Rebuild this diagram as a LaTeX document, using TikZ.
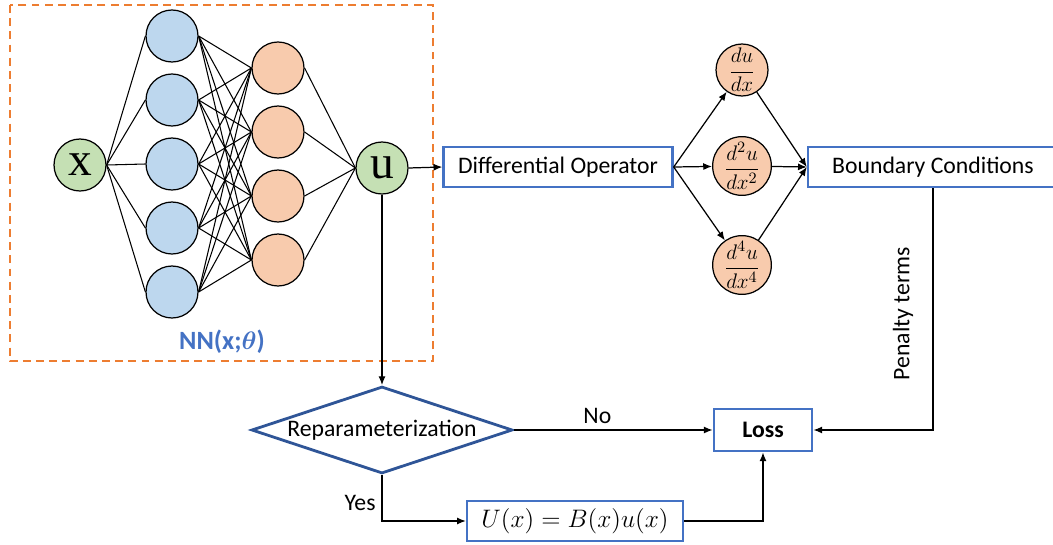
\documentclass[tikz,border=0pt]{standalone}
\usepackage{fontspec}
\setmainfont{Carlito}
\newfontfamily\neuronfont{Liberation Serif}
\usetikzlibrary{shapes.geometric,arrows.meta}
\definecolor{boxblue}{HTML}{4472C4}
\definecolor{darkblue}{HTML}{2F5597}
\definecolor{nnorange}{HTML}{ED7D31}
\definecolor{inblue}{HTML}{BDD7EE}
\definecolor{hidorange}{HTML}{F8CBAD}
\definecolor{iogreen}{HTML}{C5E0B4}
\tikzset{
  neuron/.style={circle,draw,line width=0.7pt,minimum size=1.04cm,inner sep=0pt},
  flowbox/.style={draw=boxblue,line width=1.4pt,minimum height=0.8cm,inner sep=2pt,fill=white},
  link/.style={line width=0.6pt},
  arrow/.style={line width=0.7pt,-{Latex[length=5pt,width=4pt]}}
}
\begin{document}
\begin{tikzpicture}[x=0.02cm,y=-0.02cm,font=\fontsize{13.5}{16}\selectfont]
    \useasboundingbox (0,0) rectangle (1053,544);
    \draw[nnorange,line width=0.9pt,dash pattern=on 4.5pt off 3pt] (10,5) rectangle (433,361);
    \node[neuron,fill=iogreen,font=\neuronfont\fontsize{27}{27}\selectfont] (x) at (80,165) {x};
    \foreach \i/\y in {1/36,2/100,3/164,4/228,5/292}
    \node[neuron,fill=inblue] (a\i) at (172,\y) {};
    \foreach \j/\y in {1/68,2/132,3/196,4/260}
    \node[neuron,fill=hidorange] (b\j) at (278,\y) {};
    \node[neuron,fill=iogreen,font=\neuronfont\fontsize{27}{27}\selectfont] (u) at (382,168) {u};
    \foreach \i in {1,...,5} {
      \draw[link] (x.east) -- (a\i.west);
      \foreach \j in {1,...,4}
      \draw[link] (a\i.east) -- (b\j.west);
    }
    \foreach \j in {1,...,4}
    \draw[link] (b\j.east) -- (u.west);
    \node[text=boxblue,font=\bfseries\boldmath\fontsize{15}{18}\selectfont] (nn) at (222,342) {NN(x;$\theta$)};
    \node[flowbox,minimum width=4.58cm] (diff) at (558,167) {Differential Operator};
    \node[neuron,fill=hidorange,font=\fontsize{13}{15}\selectfont] (d1) at (742,70) {$\displaystyle\frac{du}{dx}$};
    \node[neuron,fill=hidorange,font=\fontsize{13}{15}\selectfont] (d2) at (742,166) {$\displaystyle\frac{d^2u}{dx^2}$};
    \node[neuron,fill=hidorange,font=\fontsize{13}{15}\selectfont] (d4) at (742,265) {$\displaystyle\frac{d^4u}{dx^4}$};
    \node[flowbox,minimum width=5cm] (bc) at (933,167) {Boundary Conditions};
    \node[diamond,draw=darkblue,line width=1.6pt,aspect=3,minimum width=5.22cm,minimum height=1.74cm,inner sep=0pt] (rep) at (382,430) {Reparameterization};
    \node[flowbox,font=\bfseries\fontsize{13.5}{16}\selectfont,line width=1.6pt,minimum width=1.96cm,minimum height=0.84cm] (loss) at (763,430) {Loss};
    \node[flowbox,minimum width=4.32cm] (ux) at (575,521) {$U(x)=B(x)u(x)$};
    \draw[arrow] (u.east) -- (diff.west);
    \foreach \d in {d1,d2,d4} {
      \draw[arrow] (diff.east) -- (\d);
      \draw[arrow] (\d) -- (bc.west);
    }
    \draw[arrow] (u) -- (rep);
    \draw[arrow] (rep) -- node[above,pos=.42]{No} (loss);
    \draw[arrow] (rep) |- node[left,pos=.3]{Yes} (ux);
    \draw[arrow] (ux) -| (loss);
    \draw[arrow] (bc) |- node[pos=.26,rotate=90,anchor=south,inner sep=11pt]{Penalty terms} (loss);
\end{tikzpicture}
\end{document}
